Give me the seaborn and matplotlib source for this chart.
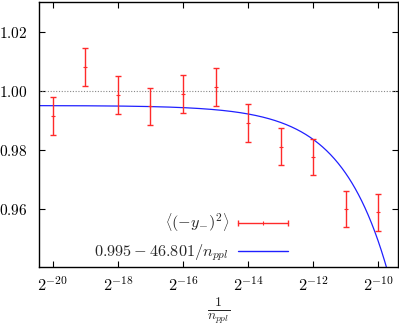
import numpy as np
import matplotlib
matplotlib.use("Agg")
import matplotlib.pyplot as plt
import seaborn as sns
from matplotlib.lines import Line2D
from matplotlib.legend_handler import HandlerBase

# ---- data ----
x_vals = [2**-20, 2**-19, 2**-18, 2**-17, 2**-16, 2**-15,
          2**-14, 2**-13, 2**-12, 2**-11, 2**-10]
y_vals = [0.9915, 1.0081, 0.9987, 0.9947, 0.9989, 1.0014,
          0.9891, 0.9811, 0.9776, 0.9600, 0.9589]
y_err = [0.0063, 0.0064, 0.0064, 0.0062, 0.0063, 0.0064,
         0.0064, 0.0062, 0.0062, 0.0062, 0.0062]
fit_a = 0.995
fit_b = 46.801
x_tick_exps = [-20, -18, -16, -14, -12, -10]
y_ticks = [0.96, 0.98, 1.00, 1.02]

sns.set_style("ticks")
plt.rcParams["mathtext.fontset"] = "cm"
plt.rcParams["font.family"] = ["DejaVu Serif"]

fig = plt.figure(figsize=(3.99, 3.25), dpi=100)
ax = fig.add_axes([0.0977, 0.1794, 0.9003, 0.8144])

red = "#ff2a2a"
blue = "#2020ff"

# reference dotted line
ax.axhline(1.0, color="#888888", lw=0.8, ls=(0, (1, 1.5)), zorder=1)

# fit curve
xf = np.logspace(np.log2(2**-21), np.log2(2**-9), 600, base=2)
yf = fit_a - fit_b * xf
sns.lineplot(x=xf, y=yf, ax=ax, color=blue, lw=0.9, zorder=2)

# data with error bars
ax.errorbar(x_vals, y_vals, yerr=y_err, fmt="none", ecolor=red,
            elinewidth=1.0, capsize=2.5, capthick=1.0, zorder=3)
sns.scatterplot(x=x_vals, y=y_vals, ax=ax, marker="+", color=red,
                s=12, linewidth=0.8, zorder=4)

ax.set_xscale("log", base=2)
ax.set_xlim(2**-20.43, 2**-9.38)
ax.set_ylim(0.9405, 1.03)

ax.set_xticks([2.0**e for e in x_tick_exps])
ax.set_xticklabels([r"$2^{%d}$" % e for e in x_tick_exps])
ax.xaxis.set_minor_locator(matplotlib.ticker.NullLocator())
ax.set_yticks(y_ticks)
ax.set_yticklabels([r"$%.2f$" % v for v in y_ticks])

ax.tick_params(axis="both", which="major", direction="in", length=4,
               width=0.8, top=True, right=True, colors="black")
ax.tick_params(axis="x", labelsize=11.8, pad=7)
ax.tick_params(axis="y", labelsize=11, pad=8.5)
for s in ax.spines.values():
    s.set_linewidth(1.0)
    s.set_color("black")

ax.set_xlabel(r"$\frac{1}{n_{ppl}}$", fontsize=14, labelpad=0)
ax.set_ylabel("")


class ErrHandler(HandlerBase):
    def create_artists(self, legend, orig_handle, xdescent, ydescent,
                       width, height, fontsize, trans):
        yc = height / 2.0 - ydescent
        x0, x1 = -xdescent, width - xdescent
        line = Line2D([x0, x1], [yc, yc], color=red, lw=1.0)
        caps = Line2D([x0, x1], [yc, yc], ls="none", marker="|",
                      ms=5, mew=1.0, color=red)
        mid = Line2D([(x0 + x1) / 2], [yc], ls="none", marker="|",
                     ms=3, mew=0.8, color=red)
        for a in (line, caps, mid):
            a.set_transform(trans)
        return [line, caps, mid]


err_proxy = Line2D([], [], color=red)
fit_proxy = Line2D([], [], color=blue, lw=1.0)
leg = ax.legend([err_proxy, fit_proxy],
                [r"$\left\langle(-y_{-})^2\right\rangle$",
                 r"$0.995-46.801/n_{ppl}$"],
                handler_map={err_proxy: ErrHandler()},
                loc="lower right", bbox_to_anchor=(0.725, -0.03),
                frameon=False, markerfirst=False, fontsize=11.7,
                handlelength=3.1, handletextpad=0.55, labelspacing=0.5,
                borderpad=0.2)
for t in leg.get_texts():
    t.set_ha("right")

fig.savefig("out.png", dpi=100)
